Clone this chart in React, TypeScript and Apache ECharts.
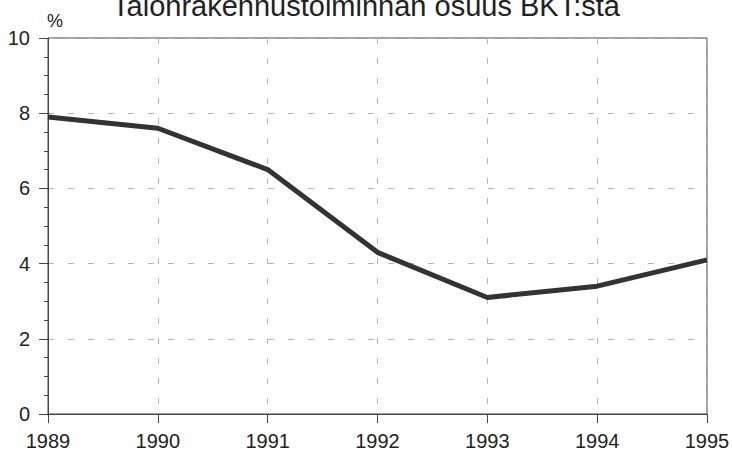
import React, { useEffect, useRef } from "react";
import * as echarts from "echarts";

const years = ["1989", "1990", "1991", "1992", "1993", "1994", "1995"];
const shareOfGdp = [7.9, 7.6, 6.5, 4.3, 3.1, 3.4, 4.1];
const titleText = "Talonrakennustoiminnan osuus BKT:sta";
const unitText = "%";

export default function App() {
  const ref = useRef<HTMLDivElement>(null);
  useEffect(() => {
    if (!ref.current) return;
    const chart = echarts.init(ref.current, null, { renderer: "svg" });
    const font = "'Liberation Sans', Arial, Helvetica, sans-serif";
    chart.setOption({
      animation: false,
      backgroundColor: "#ffffff",
      textStyle: { fontFamily: font },
      graphic: [
        {
          type: "text",
          x: 366,
          y: 6,
          style: {
            text: titleText,
            font: `29px ${font}`,
            fill: "#222",
            align: "center",
            verticalAlign: "middle",
          },
        },
        {
          type: "text",
          x: 55,
          y: 21,
          style: {
            text: unitText,
            font: `18px ${font}`,
            fill: "#222",
            align: "center",
            verticalAlign: "middle",
          },
        },
      ],
      grid: {
        left: 48,
        right: 25,
        top: 38,
        bottom: 37,
        outerBoundsMode: "none",
        containLabel: false,
        show: true,
        borderColor: "#444",
        borderWidth: 1,
        backgroundColor: "transparent",
      },
      xAxis: {
        type: "category",
        data: years,
        boundaryGap: false,
        axisLine: { lineStyle: { color: "#444", width: 1 } },
        axisTick: { show: true, length: 9, lineStyle: { color: "#444" } },
        axisLabel: {
          color: "#222",
          fontSize: 20,
          fontFamily: font,
          margin: 17,
          interval: 0,
        },
        splitLine: {
          show: true,
          lineStyle: { color: "#b4b4b4", type: [6, 14], width: 1 },
        },
      },
      yAxis: {
        type: "value",
        min: 0,
        max: 10,
        interval: 2,
        axisLine: { show: true, lineStyle: { color: "#444", width: 1 } },
        axisTick: { show: true, length: 9, lineStyle: { color: "#444" } },
        minorTick: { show: true, splitNumber: 4, length: 4, lineStyle: { color: "#444" } },
        axisLabel: {
          color: "#222",
          fontSize: 20,
          fontFamily: font,
          margin: 18,
        },
        splitLine: {
          show: true,
          lineStyle: { color: "#b4b4b4", type: [6, 14], width: 1 },
        },
      },
      series: [
        {
          type: "line",
          data: shareOfGdp,
          symbol: "none",
          lineStyle: { color: "#333", width: 5 },
        },
      ],
    });
    return () => chart.dispose();
  }, []);
  return (
    <div
      ref={ref}
      style={{ position: "absolute", left: 0, top: 0, width: 732, height: 451 }}
    />
  );
}
